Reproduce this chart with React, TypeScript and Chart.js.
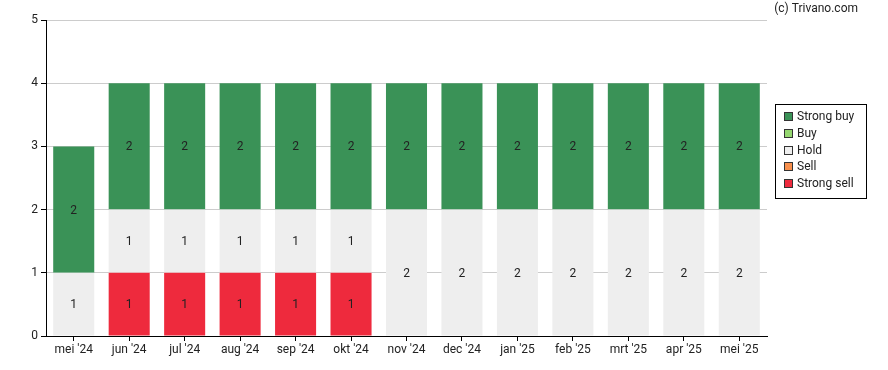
import React, { useEffect, useRef } from "react";
import { Chart, registerables } from "chart.js";

Chart.register(...registerables);

const categories = ["mei '24", "jun '24", "jul '24", "aug '24", "sep '24", "okt '24", "nov '24", "dec '24", "jan '25", "feb '25", "mrt '25", "apr '25", "mei '25"];
const strongSell = [0, 1, 1, 1, 1, 1, 0, 0, 0, 0, 0, 0, 0];
const sell = [0, 0, 0, 0, 0, 0, 0, 0, 0, 0, 0, 0, 0];
const hold = [1, 1, 1, 1, 1, 1, 2, 2, 2, 2, 2, 2, 2];
const buy = [0, 0, 0, 0, 0, 0, 0, 0, 0, 0, 0, 0, 0];
const strongBuy = [2, 2, 2, 2, 2, 2, 2, 2, 2, 2, 2, 2, 2];
const yTicks = [0, 1, 2, 3, 4, 5];

const FONT = "Roboto, 'Noto Sans', sans-serif";

const seriesDefs = [
  { label: "Strong sell", data: strongSell, color: "#ee2a3d" },
  { label: "Sell", data: sell, color: "#f78f4c" },
  { label: "Hold", data: hold, color: "#eeeeee" },
  { label: "Buy", data: buy, color: "#95d770" },
  { label: "Strong buy", data: strongBuy, color: "#3a9257" },
];

const valueLabels = {
  id: "valueLabels",
  afterDatasetsDraw(chart: any) {
    const ctx = chart.ctx;
    ctx.save();
    ctx.font = `12px ${FONT}`;
    ctx.fillStyle = "#222";
    ctx.textAlign = "center";
    ctx.textBaseline = "middle";
    chart.data.datasets.forEach((ds: any, i: number) => {
      const meta = chart.getDatasetMeta(i);
      meta.data.forEach((bar: any, j: number) => {
        const v = ds.data[j];
        if (!v) return;
        const p = bar.getProps(["x", "y", "base"], true);
        ctx.fillText(String(v), p.x, (p.y + p.base) / 2 + 1);
      });
    });
    ctx.restore();
  },
};

const customLegend = {
  id: "customLegend",
  afterDraw(chart: any) {
    const ctx = chart.ctx;
    ctx.save();
    ctx.fillStyle = "#fff";
    ctx.fillRect(775.5, 104.5, 91, 94);
    ctx.strokeStyle = "#000";
    ctx.lineWidth = 1;
    ctx.strokeRect(775.5, 104.5, 91, 94);
    ctx.font = `12px ${FONT}`;
    ctx.textAlign = "left";
    ctx.textBaseline = "middle";
    const items = [...seriesDefs].reverse();
    items.forEach((s, i) => {
      const cy = 117 + i * 16.8;
      ctx.fillStyle = s.color;
      ctx.fillRect(784.5, Math.round(cy) - 4.5, 8, 8);
      ctx.strokeStyle = "#333";
      ctx.strokeRect(784.5, Math.round(cy) - 4.5, 8, 8);
      ctx.fillStyle = "#222";
      ctx.fillText(s.label, 797, cy);
    });
    ctx.font = `12px ${FONT}`;
    ctx.textAlign = "right";
    ctx.fillStyle = "#222";
    ctx.fillText("(c) Trivano.com", 858, 9);
    ctx.restore();
  },
};

export default function App() {
  const ref = useRef<HTMLCanvasElement>(null);
  useEffect(() => {
    document.body.style.margin = "0";
    const chart = new Chart(ref.current!, {
      type: "bar",
      data: {
        labels: categories,
        datasets: seriesDefs.map((s) => ({
          label: s.label,
          data: s.data,
          backgroundColor: s.color,
          borderWidth: 0,
          stack: "a",
          categoryPercentage: 1,
          barPercentage: 0.74,
        })),
      },
      options: {
        animation: false,
        responsive: false,
        maintainAspectRatio: false,
        layout: { padding: { top: 20, right: 121, bottom: 0, left: 0 } },
        plugins: { legend: { display: false }, tooltip: { enabled: false } },
        scales: {
          x: {
            stacked: true,
            offset: true,
            grid: { display: true, drawOnChartArea: false, drawTicks: true, tickLength: 5, offset: false, color: "#000", tickColor: "#000" },
            border: { display: true, color: "#000" },
            ticks: { color: "#222", font: { family: FONT, size: 12 }, padding: 2, maxRotation: 0, autoSkip: false },
            afterFit: (s: any) => { s.height = 34; },
          },
          y: {
            stacked: true,
            min: 0,
            max: 5,
            afterBuildTicks: (s: any) => { s.ticks = yTicks.map((v) => ({ value: v })); },
            grid: { color: "#cccccc", tickColor: "#000", tickLength: 5 },
            border: { display: true, color: "#000" },
            ticks: { color: "#222", font: { family: FONT, size: 12 }, padding: 3 },
            afterFit: (s: any) => { s.width = 46; },
          },
        },
      },
      plugins: [valueLabels, customLegend],
    });
    return () => chart.destroy();
  }, []);
  return (
    <div style={{ width: 888, height: 370 }}>
      <canvas ref={ref} width={888} height={370} style={{ display: "block" }} />
    </div>
  );
}
